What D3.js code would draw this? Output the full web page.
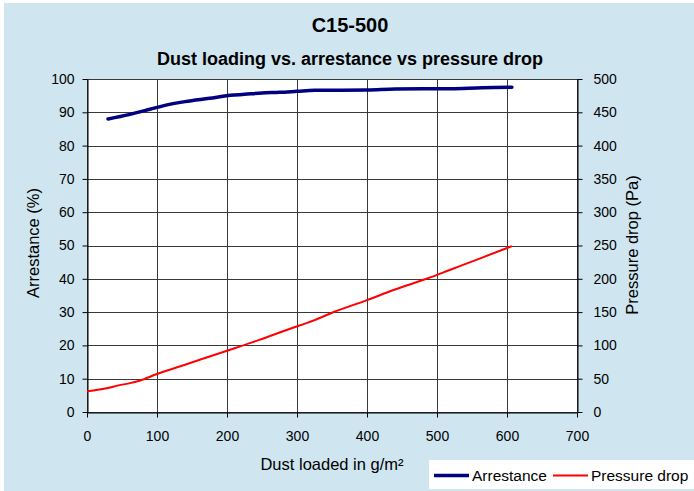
<!DOCTYPE html>
<html><head><meta charset="utf-8">
<script src="https://cdn.jsdelivr.net/npm/d3@7"></script>
<style>html,body{margin:0;padding:0;background:#fff;}svg{display:block;font-family:"Liberation Sans",Arial,sans-serif;}</style>
</head><body>
<svg id="c" width="694" height="491"></svg>
<script>
const title = "C15-500";
const subtitle = "Dust loading vs. arrestance vs pressure drop";
const xTicks = [0,100,200,300,400,500,600,700];
const yLeftTicks = [0,10,20,30,40,50,60,70,80,90,100];
const yRightTicks = [0,50,100,150,200,250,300,350,400,450,500];
const arrestanceX = [30,60,90,110,140,175,205,225,250,275,300,325,400,440,520,565,607];
const arrestanceY = [88,89.3,90.9,92,93.2,94.2,95.1,95.4,95.8,96,96.3,96.6,96.7,97,97.1,97.4,97.5];
const pressureX = [0,30,45,60,75,100,140,200,245,290,325,350,400,440,485,520,560,607];
const pressureY = [31,36,40,43,47,57,71,92,108,125,138,149,168,184,200,214,230,249];

const svg = d3.select("#c");
svg.append("rect").attr("x",4).attr("y",3).attr("width",690).attr("height",488).attr("fill","#CFE6F0");

const L=87,R=577,T=79,B=412;
const x = d3.scaleLinear().domain([0,700]).range([L,R]);
const yl = d3.scaleLinear().domain([0,100]).range([B,T]);
const yr = d3.scaleLinear().domain([0,500]).range([B,T]);

svg.append("rect").attr("x",L).attr("y",T).attr("width",R-L).attr("height",B-T).attr("fill","#fff");

const g = svg.append("g");
g.selectAll("line.h").data(yLeftTicks).join("line")
  .attr("x1",L).attr("x2",R).attr("y1",d=>Math.round(yl(d))+0.5).attr("y2",d=>Math.round(yl(d))+0.5)
  .attr("stroke","#3a3a3a").attr("stroke-width",1);
g.selectAll("line.v").data(xTicks).join("line")
  .attr("y1",T).attr("y2",B).attr("x1",d=>Math.round(x(d))+0.5).attr("x2",d=>Math.round(x(d))+0.5)
  .attr("stroke","#3a3a3a").attr("stroke-width",1);

const fs = "14px";
const axL = svg.append("g").attr("transform",`translate(${L+0.5},0)`)
  .call(d3.axisLeft(yl).tickValues(yLeftTicks).tickSize(5).tickPadding(8).tickSizeOuter(0));
const axR = svg.append("g").attr("transform",`translate(${R+0.5},0)`)
  .call(d3.axisRight(yr).tickValues(yRightTicks).tickSize(5).tickPadding(11).tickSizeOuter(0));
const axB = svg.append("g").attr("transform",`translate(0,${B+0.5})`)
  .call(d3.axisBottom(x).tickValues(xTicks).tickSize(5).tickPadding(14).tickSizeOuter(0));
[axL,axR,axB].forEach(a=>{
  a.selectAll("text").attr("font-size",fs).attr("fill","#000").attr("font-family","Liberation Sans, Arial, sans-serif");
  a.selectAll("line,path").attr("stroke","#000");
});

const lineA = d3.line().x((d,i)=>x(arrestanceX[i])).y(d=>yl(d)).curve(d3.curveMonotoneX);
const lineP = d3.line().x((d,i)=>x(pressureX[i])).y(d=>yr(d)).curve(d3.curveMonotoneX);
svg.append("path").attr("d",lineP(pressureY)).attr("fill","none").attr("stroke","#FF0000").attr("stroke-width",2);
svg.append("path").attr("d",lineA(arrestanceY)).attr("fill","none").attr("stroke","#000080").attr("stroke-width",3.5).attr("stroke-linecap","round");

svg.append("text").attr("x",350).attr("y",32).attr("text-anchor","middle").attr("font-size","20px").attr("font-weight","bold").text(title);
svg.append("text").attr("x",350).attr("y",65).attr("text-anchor","middle").attr("font-size","18px").attr("font-weight","bold").text(subtitle);

const ft = "16.5px";
svg.append("text").attr("transform","translate(39,243) rotate(-90)").attr("text-anchor","middle").attr("font-size",ft).text("Arrestance (%)");
svg.append("text").attr("transform","translate(638,245) rotate(-90)").attr("text-anchor","middle").attr("font-size",ft).text("Pressure drop (Pa)");
svg.append("text").attr("x",332).attr("y",470).attr("text-anchor","middle").attr("font-size",ft).text("Dust loaded in g/m²");

const leg = svg.append("g");
leg.append("rect").attr("x",429).attr("y",460).attr("width",265).attr("height",29).attr("fill","#fff");
const items = [{name:"Arrestance",color:"#000080",w:3.5,x:434},{name:"Pressure drop",color:"#FF0000",w:2,x:553}];
items.forEach(it=>{
  leg.append("line").attr("x1",it.x).attr("x2",it.x+35).attr("y1",475.5).attr("y2",475.5).attr("stroke",it.color).attr("stroke-width",it.w);
  leg.append("text").attr("x",it.x+38).attr("y",481).attr("font-size","15.5px").text(it.name);
});
</script>
</body></html>
